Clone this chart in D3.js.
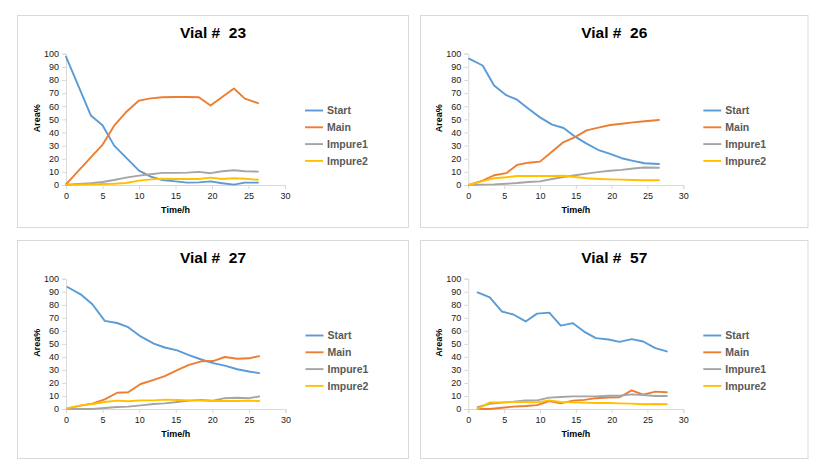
<!DOCTYPE html>
<html>
<head>
<meta charset="utf-8">
<script src="https://cdn.jsdelivr.net/npm/d3@7"></script>
<style>
  html, body { margin: 0; padding: 0; background: #ffffff; }
  svg { display: block; font-family: "Liberation Sans", Arial, sans-serif; }
</style>
</head>
<body>
<svg id="chart" width="818" height="462"></svg>
<script>
// ---- data ----
const panelTitles = ["Vial #  23", "Vial #  26", "Vial #  27", "Vial #  57"];
const seriesNames = ["Start", "Main", "Impure1", "Impure2"];
const seriesColors = ["#5B9BD5", "#ED7D31", "#A5A5A5", "#FFC000"];
const xTicks = [0, 5, 10, 15, 20, 25, 30];
const yTicks = [0, 10, 20, 30, 40, 50, 60, 70, 80, 90, 100];

const time23 = [0, 3.4, 5, 6.6, 8.2, 10, 11.6, 13.2, 15, 16.6, 18.2, 19.8, 21.4, 23, 24.5, 26.3];
const start23 = [97.7, 53, 45.5, 30, 21, 11, 6.4, 3.8, 2.8, 1.8, 2, 2.8, 1.3, 0.3, 1.8, 1.8];
const main23 = [0.5, 21, 30.6, 45.2, 55.4, 64.3, 66, 66.8, 67, 67, 66.8, 60.5, 67, 73.5, 65.8, 62.3];
const impure1_23 = [0.3, 1.3, 2.3, 3.8, 5.6, 7.1, 8.2, 9.2, 9.2, 9.4, 10, 9, 10.5, 11.2, 10.5, 10.2];
const impure2_23 = [0, 0.5, 0.8, 1, 1.5, 3.3, 4.3, 4.8, 4.6, 4.6, 4.6, 5.6, 4.6, 5.1, 4.8, 4];

const time26 = [0.1, 2.0, 3.6, 5.3, 6.8, 8.4, 10.0, 11.7, 13.3, 14.9, 16.5, 18.3, 19.8, 21.4, 23.0, 24.6, 26.6];
const start26 = [96.2, 91, 75.8, 68.4, 65, 58, 51.5, 46, 43.4, 36.8, 31.5, 26.3, 23.7, 20.4, 18.4, 16.6, 16];
const main26 = [0, 3.3, 7.4, 9, 15.3, 17, 17.8, 25.5, 32.7, 36.5, 41.6, 43.9, 45.7, 46.7, 47.7, 48.5, 49.5];
const impure1_26 = [0, 0.3, 0.5, 1, 1.5, 2.3, 2.8, 4.6, 6.1, 7.4, 8.7, 10, 10.9, 11.5, 12.6, 13.3, 13.1];
const impure2_26 = [0, 3, 5.1, 5.9, 6.9, 6.9, 6.9, 6.9, 7, 6.1, 5.1, 4.6, 4.3, 4.1, 3.8, 3.6, 3.6];

const time27 = [0.2, 2, 3.6, 5.3, 7, 8.5, 10.2, 12, 13.5, 15.2, 16.8, 18.5, 20.1, 21.7, 23.4, 25, 26.4];
const start27 = [93.6, 88, 80.4, 67.6, 66, 62.8, 55.7, 50.2, 47.2, 45, 41.4, 38, 35.2, 33.3, 30.5, 28.8, 27.5];
const main27 = [0.5, 2.6, 4.1, 7.4, 12.5, 12.8, 19.2, 22.3, 25.3, 29.9, 33.8, 36.6, 36.8, 39.9, 38.6, 38.9, 40.6];
const impure1_27 = [0, 0, 0, 0.8, 1.5, 1.8, 2.8, 3.8, 4.3, 5.4, 6.4, 7, 6.3, 8.3, 8.6, 8.3, 9.6];
const impure2_27 = [0.5, 2.8, 3.8, 5.4, 6.4, 5.9, 6.6, 6.6, 7.2, 6.9, 6.6, 6.4, 6.1, 6.1, 6.1, 6.4, 6.1];

const time57 = [1.3, 3.0, 4.7, 6.3, 8.0, 9.6, 11.3, 12.9, 14.6, 16.2, 17.8, 19.6, 21.1, 22.8, 24.4, 26.1, 27.7];
const start57 = [89.5, 85.6, 74.8, 72.5, 67.2, 73.2, 74, 64, 65.9, 59.2, 54.4, 53.3, 51.5, 53.6, 51.8, 46.7, 44.2];
const main57 = [0, 0, 1, 1.8, 2.3, 3, 6.1, 4.3, 6.4, 7, 8.3, 8.8, 9, 14.3, 11, 13.3, 12.9];
const impure1_57 = [1.5, 4, 4.9, 5.6, 6.6, 6.6, 8.7, 9.2, 9.7, 9.7, 9.7, 10.2, 10.2, 11.2, 10.7, 10, 10];
const impure2_57 = [0, 5.1, 5.1, 5.4, 5.4, 5.1, 6.6, 5.4, 5.1, 4.9, 4.6, 4.6, 4.3, 4.1, 3.6, 3.8, 3.6];

const panelTimes = [time23, time26, time27, time57];
const panelSeries = [
  [start23, main23, impure1_23, impure2_23],
  [start26, main26, impure1_26, impure2_26],
  [start27, main27, impure1_27, impure2_27],
  [start57, main57, impure1_57, impure2_57]
];

// ---- layout ----
const panels = [
  { x: 17.5, y: 15.5, w: 391, h: 212, plotL: 48.5, plotW: 219, plotT: 38.2, plotH: 131.3 },
  { x: 420.5, y: 15.5, w: 387.5, h: 212, plotL: 47.8, plotW: 215, plotT: 38.2, plotH: 131.3 },
  { x: 17.5, y: 240.5, w: 391, h: 218, plotL: 48.5, plotW: 219.5, plotT: 38.2, plotH: 130.3 },
  { x: 420.5, y: 240.5, w: 387.5, h: 218, plotL: 47.8, plotW: 215, plotT: 38.2, plotH: 130.3 }
];

const svg = d3.select("#chart");

panels.forEach((p, i) => {
  const g = svg.append("g").attr("transform", `translate(${p.x},${p.y})`);
  g.append("rect")
    .attr("width", p.w).attr("height", p.h)
    .attr("fill", "#ffffff").attr("stroke", "#d9d9d9").attr("stroke-width", 1);

  g.append("text")
    .attr("x", p.w / 2).attr("y", 22.5)
    .attr("text-anchor", "middle")
    .style("white-space", "pre")
    .attr("font-size", 15.5).attr("font-weight", "bold").attr("fill", "#000")
    .text(panelTitles[i]);

  const x = d3.scaleLinear().domain([0, 30]).range([p.plotL, p.plotL + p.plotW]);
  const y = d3.scaleLinear().domain([0, 100]).range([p.plotT + p.plotH, p.plotT]);

  const xAxis = g.append("g")
    .attr("transform", `translate(0,${p.plotT + p.plotH})`)
    .call(d3.axisBottom(x).tickValues(xTicks).tickSize(4).tickPadding(4));
  const yAxis = g.append("g")
    .attr("transform", `translate(${p.plotL},0)`)
    .call(d3.axisLeft(y).tickValues(yTicks).tickSize(4).tickPadding(3));

  [xAxis, yAxis].forEach(ax => {
    ax.select(".domain").attr("stroke", "#d9d9d9");
    ax.selectAll(".tick line").attr("stroke", "#d9d9d9");
    ax.selectAll(".tick text")
      .attr("font-family", "Liberation Sans, Arial, sans-serif")
      .attr("font-size", 9).attr("fill", "#1a1a1a");
  });

  g.append("text")
    .attr("x", p.plotL + p.plotW / 2).attr("y", p.plotT + p.plotH + 28)
    .attr("text-anchor", "middle")
    .attr("font-size", 9).attr("font-weight", "bold").attr("fill", "#000")
    .text("Time/h");

  g.append("text")
    .attr("transform", `translate(${p.plotL - 26},${p.plotT + p.plotH / 2 - 1}) rotate(-90)`)
    .attr("text-anchor", "middle")
    .attr("font-size", 9).attr("font-weight", "bold").attr("fill", "#000")
    .text("Area%");

  const times = panelTimes[i];
  const line = d3.line()
    .x((d, j) => x(times[j]))
    .y(d => y(d));

  panelSeries[i].forEach((vals, s) => {
    g.append("path")
      .datum(vals)
      .attr("fill", "none")
      .attr("stroke", seriesColors[s])
      .attr("stroke-width", 1.9)
      .attr("stroke-linejoin", "round")
      .attr("stroke-linecap", "round")
      .attr("d", line);
  });

  const legX = p.plotL + p.plotW + 20;
  const leg = g.append("g").attr("transform", `translate(${legX},${95})`);
  seriesNames.forEach((name, s) => {
    const row = leg.append("g").attr("transform", `translate(0,${s * 16.8})`);
    row.append("line")
      .attr("x1", 0).attr("x2", 18).attr("y1", 0).attr("y2", 0)
      .attr("stroke", seriesColors[s]).attr("stroke-width", 1.9);
    row.append("text")
      .attr("x", 22).attr("y", 0).attr("dy", "0.35em")
      .attr("font-size", 10.5).attr("font-weight", "bold").attr("fill", "#595959")
      .text(name);
  });
});
</script>
</body>
</html>
